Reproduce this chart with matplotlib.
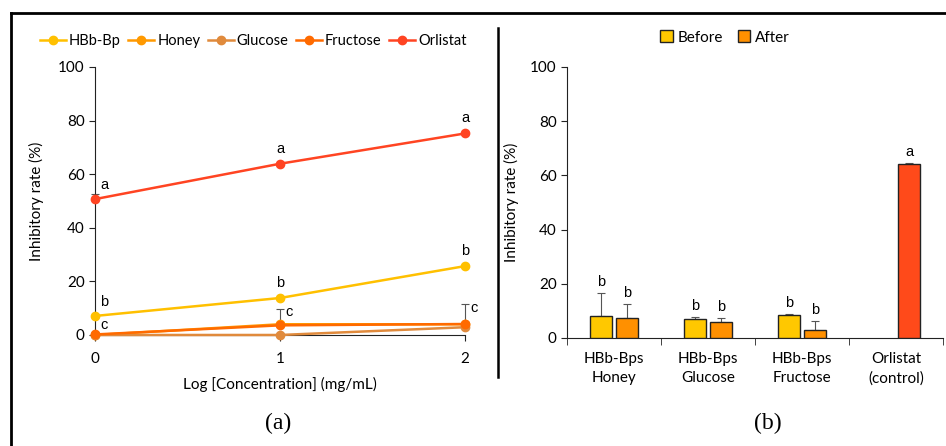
import matplotlib
matplotlib.use("Agg")
import matplotlib.pyplot as plt
from matplotlib.lines import Line2D
import numpy as np

plt.rcParams["font.family"] = ["Lato", "DejaVu Sans"]

# ---- (a) data ----
log_conc = [0, 1, 2]
line_series = ["HBb-Bp", "Honey", "Glucose", "Fructose", "Orlistat"]
line_values = {
    "HBb-Bp": [7.1, 13.8, 25.7],
    "Honey": [0.0, 4.0, 4.0],
    "Glucose": [0.0, 0.0, 2.9],
    "Fructose": [0.2, 3.6, 4.1],
    "Orlistat": [50.7, 63.9, 75.2],
}
line_err = {
    "HBb-Bp": [0.0, 0.0, 0.0],
    "Honey": [0.0, 5.8, 7.6],
    "Glucose": [0.0, 0.0, 0.0],
    "Fructose": [0.0, 0.0, 0.0],
    "Orlistat": [2.0, 0.0, 0.0],
}
line_colors = {
    "HBb-Bp": "#FFC000",
    "Honey": "#FF9900",
    "Glucose": "#E08A3C",
    "Fructose": "#FF6A00",
    "Orlistat": "#FF4422",
}
line_letters = {
    "Orlistat": ["a", "a", "a"],
    "HBb-Bp": ["b", "b", "b"],
    "Honey": ["c", "c", "c"],
}

# ---- (b) data ----
groups = ["HBb-Bps\nHoney", "HBb-Bps\nGlucose", "HBb-Bps\nFructose", "Orlistat\n(control)"]
before = [8.1, 7.1, 8.6]
before_err = [8.6, 0.5, 0.4]
after = [7.4, 5.9, 2.9, 64.2]
after_err = [5.0, 1.5, 3.2, 0.2]
before_letters = ["b", "b", "b"]
after_letters = ["b", "b", "b", "a"]

fig = plt.figure(figsize=(9.46, 4.46), dpi=100)

# outer frame + divider
fig.add_artist(Line2D([11 / 946, 1.0], [1 - 12.5 / 446] * 2, color="black", lw=2.0))
fig.add_artist(Line2D([11 / 946] * 2, [0, 1 - 12.5 / 446], color="black", lw=2.0))
fig.add_artist(Line2D([498 / 946] * 2, [1 - 377 / 446, 1 - 28 / 446], color="black", lw=1.8))

# ---------------- (a) ----------------
ax1 = fig.add_axes([0.1004, 0.2489, 0.3911, 0.6009])
for name in line_series:
    ax1.plot(log_conc, line_values[name], color=line_colors[name], lw=1.8,
             marker="o", markersize=6, label=name, zorder=3, clip_on=False)
    err = line_err[name]
    if any(err):
        eb = ax1.errorbar(log_conc, line_values[name], yerr=[[0] * 3, err], fmt="none",
                          ecolor="#555555", elinewidth=0.8, capsize=3, capthick=0.8,
                          zorder=2)
        for part in eb.lines:
            for a in (part if isinstance(part, tuple) else [part]):
                if a is not None:
                    a.set_clip_on(False)

for name, letters in line_letters.items():
    vals = line_values[name]
    for i, (x, v, lt) in enumerate(zip(log_conc, vals, letters)):
        if name == "Honey":
            top = v + line_err[name][i]
            ax1.text(x + 0.03, top - 4.0 if i else 1.0, lt, fontsize=10.5,
                     family=["Liberation Sans"], ha="left", va="bottom")
        elif i == 0:
            ax1.text(x + 0.03, v + 2.5, lt, fontsize=10.5, family=["Liberation Sans"],
                     ha="left", va="bottom")
        else:
            ax1.text(x, v + 3.0, lt, fontsize=10.5, family=["Liberation Sans"],
                     ha="center", va="bottom")

ax1.set_xlim(0, 2)
ax1.set_ylim(0, 100)
ax1.set_xticks([0, 1, 2])
ax1.set_yticks(range(0, 101, 20))
ax1.spines["top"].set_visible(False)
ax1.spines["right"].set_visible(False)
ax1.spines["left"].set_color("#222222")
ax1.spines["bottom"].set_color("#222222")
ax1.tick_params(labelsize=11, length=4, color="#222222")
ax1.tick_params(axis="x", pad=8)
ax1.set_xlabel("Log [Concentration] (mg/mL)", fontsize=11, labelpad=8)
ax1.set_ylabel("Inhibitory rate (%)", fontsize=11, labelpad=10)
ax1.legend(loc="lower left", bbox_to_anchor=(-0.165, 1.05), ncol=5, frameon=False,
           fontsize=10.5, handlelength=1.8, handletextpad=0.2, columnspacing=0.5,
           borderaxespad=0)
fig.text(278 / 946, 1 - 423 / 446, "(a)", fontsize=17, family=["Liberation Serif"],
         ha="center", va="center")

# ---------------- (b) ----------------
ax2 = fig.add_axes([0.5994, 0.2422, 0.3975, 0.6076])
x = np.arange(len(groups))
w = 0.23
off = 0.14
xb = x[:len(before)]
bar_before = ax2.bar(xb - off, before, w, color="#FFC800", edgecolor="#222222", lw=1.0,
                     label="Before", zorder=3)
after_colors = ["#FF9000"] * 3 + ["#FF4A1A"]
bar_after = ax2.bar(x + off, after, w, color=after_colors, edgecolor="#222222", lw=1.0,
                    label="After", zorder=3)
ax2.errorbar(xb - off, before, yerr=[[0] * len(before), before_err], fmt="none",
             ecolor="#555555", elinewidth=0.8, capsize=3, capthick=0.8, zorder=2)
ax2.errorbar(x + off, after, yerr=[[0] * len(after), after_err], fmt="none",
             ecolor="#555555", elinewidth=0.8, capsize=3, capthick=0.8, zorder=2)
for i in range(len(before)):
    ax2.text(xb[i] - off, before[i] + before_err[i] + 1.5, before_letters[i],
             fontsize=10.5, family=["Liberation Sans"], ha="center", va="bottom")
for i in range(len(after)):
    ax2.text(x[i] + off, after[i] + after_err[i] + 1.5, after_letters[i],
             fontsize=10.5, family=["Liberation Sans"], ha="center", va="bottom")

ax2.set_xlim(-0.5, len(groups) - 0.5)
ax2.set_ylim(0, 100)
ax2.set_yticks(range(0, 101, 20))
ax2.set_xticks(x)
ax2.set_xticklabels(groups, fontsize=11, linespacing=1.5)
ax2.set_xticks(np.arange(-0.5, len(groups), 1.0), minor=True)
ax2.tick_params(axis="x", which="major", length=0, pad=10)
ax2.tick_params(axis="x", which="minor", length=5, color="#222222")
ax2.tick_params(axis="y", labelsize=11, length=4, color="#222222")
ax2.spines["top"].set_visible(False)
ax2.spines["right"].set_visible(False)
ax2.spines["left"].set_color("#222222")
ax2.spines["bottom"].set_color("#222222")
ax2.set_ylabel("Inhibitory rate (%)", fontsize=11, labelpad=8)
ax2.legend(handles=[bar_before, bar_after], labels=["Before", "After"],
           loc="lower center", bbox_to_anchor=(0.42, 1.06), ncol=2, frameon=False,
           fontsize=11, handlelength=0.8, handleheight=0.8, handletextpad=0.3,
           columnspacing=1.0, borderaxespad=0)
fig.text(768 / 946, 1 - 423 / 446, "(b)", fontsize=17, family=["Liberation Serif"],
         ha="center", va="center")

fig.savefig("out.png", dpi=100)
